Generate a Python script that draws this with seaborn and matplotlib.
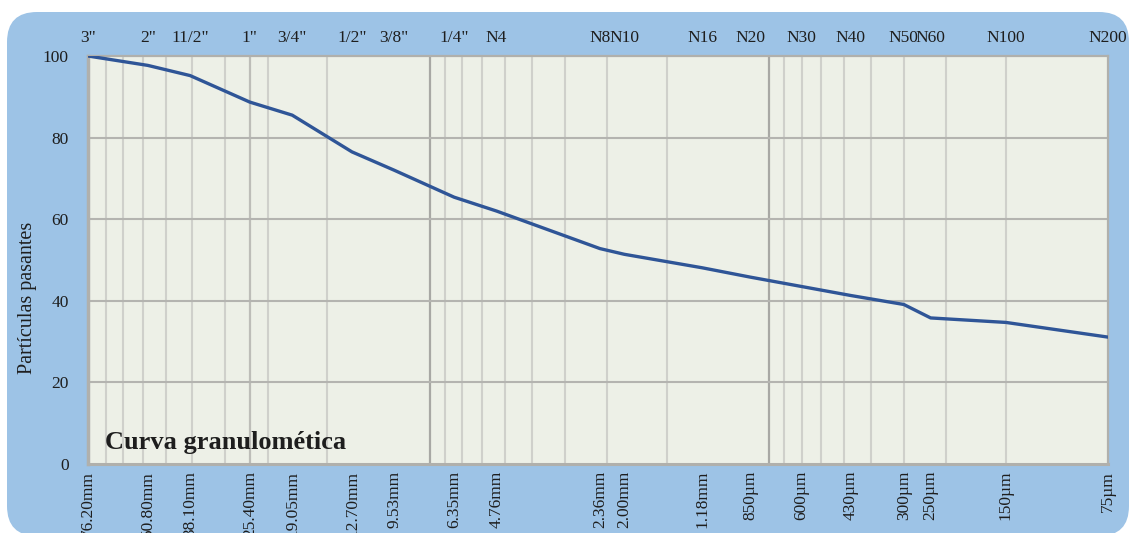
import numpy as np
import pandas as pd
import matplotlib
matplotlib.use("Agg")
import matplotlib.pyplot as plt
import seaborn as sns
from matplotlib.patches import FancyBboxPatch

# ---- data ----
sieve_names = ['3"', '2"', '11/2"', '1"', '3/4"', '1/2"', '3/8"', '1/4"', 'N4',
               'N8', 'N10', 'N16', 'N20', 'N30', 'N40', 'N50', 'N60', 'N100', 'N200']
size_labels = ['76.20mm', '50.80mm', '38.10mm', '25.40mm', '19.05mm', '12.70mm',
               '9.53mm', '6.35mm', '4.76mm', '2.36mm', '2.00mm', '1.18mm',
               '850µm', '600µm', '430µm', '300µm', '250µm', '150µm', '75µm']
sizes_mm = [76.2, 50.8, 38.1, 25.4, 19.05, 12.7, 9.53, 6.35, 4.76, 2.36, 2.00,
            1.18, 0.85, 0.60, 0.43, 0.30, 0.25, 0.15, 0.075]
passing = [100, 97.7, 95.2, 88.7, 85.5, 76.5, 72.0, 65.4, 62.0, 52.8, 51.4,
           48.1, 45.8, 43.5, 41.3, 39.1, 35.8, 34.7, 31.1]
y_ticks = [0, 20, 40, 60, 80, 100]

df = pd.DataFrame({"size": sizes_mm, "pass": passing})

FONT = "Liberation Serif"
TXT = "#1e1e1e"
FRAME = "#9dc3e6"
PLOTBG = "#edf0e7"
LINE = "#2f5597"

sns.set_theme(style="white")
plt.rcParams["font.family"] = [FONT, "DejaVu Serif"]

fig = plt.figure(figsize=(11.31, 5.33), dpi=100, facecolor="white")

# rounded blue frame
frame = FancyBboxPatch((0.07, -0.03), 11.22, 5.24,
                       boxstyle="round,pad=0,rounding_size=0.3",
                       transform=fig.dpi_scale_trans, facecolor=FRAME,
                       edgecolor="none", zorder=-10)
fig.patches.append(frame)

ax = fig.add_axes([88 / 1131, (533 - 464) / 533, 1020 / 1131, 408 / 533])
ax.set_zorder(2)
ax.set_facecolor(PLOTBG)

sns.lineplot(data=df, x="size", y="pass", ax=ax, color=LINE, linewidth=2.4,
             estimator=None, sort=False, zorder=5)

ax.set_xscale("log")
ax.set_xlim(76.2, 0.075)
ax.set_ylim(0, 100)

# background grid (log grid from 0.075 mm)
grid_base = 0.075
for j in range(3):
    for m in range(2, 10):
        v = m * grid_base * 10 ** j
        if 0.075 < v < 76.2:
            ax.axvline(v, color="#cfd0cb", lw=1.5, zorder=1)
for j in range(1, 3):
    ax.axvline(grid_base * 10 ** j, color="#a8a8a4", lw=1.6, zorder=1)
ax.axvline(25.4, color="#bdbdb8", lw=1.6, zorder=1)
for yv in y_ticks[1:-1]:
    ax.axhline(yv, color="#b4b4b0", lw=1.5, zorder=2)

for s in ax.spines.values():
    s.set_color("#b0b0ac")
    s.set_linewidth(1.6)
ax.spines["left"].set_linewidth(2.5)
ax.spines["bottom"].set_linewidth(2.2)

ax.set_yticks(y_ticks)
ax.set_yticklabels([str(v) for v in y_ticks], fontsize=12.5, color=TXT, family=FONT)
ax.tick_params(axis="y", length=0, pad=14)

ax.set_xticks(sizes_mm)
ax.set_xticklabels(size_labels, rotation=90, fontsize=12.5, color=TXT,
                   family=FONT, va="top", ha="center")
ax.xaxis.set_minor_locator(matplotlib.ticker.NullLocator())
ax.tick_params(axis="x", length=0, pad=5)
ax.set_xlabel("")
ax.set_ylabel("")

top = ax.secondary_xaxis("top")
top.set_xticks(sizes_mm)
top.set_xticklabels(sieve_names, fontsize=12.5, color=TXT, family=FONT)
top.xaxis.set_minor_locator(matplotlib.ticker.NullLocator())
top.tick_params(axis="x", length=0, pad=7)
for s in top.spines.values():
    s.set_visible(False)

fig.text(28 / 1131, 1 - 298 / 533, "Partículas pasantes", rotation=90,
         fontsize=14.5, color=TXT, family=FONT, ha="center", va="center")

ax.text(0.017, 0.037, "Curva granulomética", transform=ax.transAxes,
        fontsize=19, fontweight="bold", color=TXT, family=FONT,
        ha="left", va="baseline", zorder=6)

fig.savefig("out.png", dpi=100, facecolor="white")
